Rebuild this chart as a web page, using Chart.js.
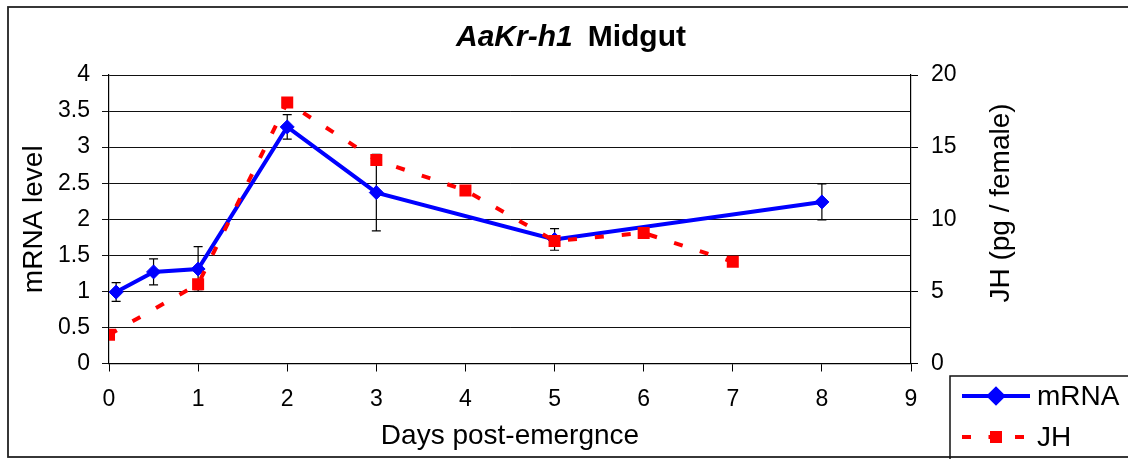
<!DOCTYPE html>
<html>
<head>
<meta charset="utf-8">
<script src="https://cdn.jsdelivr.net/npm/chart.js@4.4.1/dist/chart.umd.min.js"></script>
<style>
  html, body { margin: 0; padding: 0; background: #fff; }
  #wrap { width: 1128px; height: 459px; }
</style>
</head>
<body>
<div id="wrap"><canvas id="c" width="1128" height="459"></canvas></div>
<script>
const FONT = '"Liberation Sans", Arial, Helvetica, sans-serif';

// Midgut AaKr-h1 transcript level (relative) with standard error
const mrnaDays  = [0.08, 0.5, 1, 2, 3, 5, 8];
const mrnaLevel = [0.99, 1.27, 1.31, 3.28, 2.37, 1.72, 2.24];
const mrnaErr   = [0.13, 0.18, 0.31, 0.17, 0.53, 0.15, 0.25];

// Juvenile hormone titer (pg / female)
const jhDays  = [0, 1, 2, 3, 4, 5, 6, 7];
const jhTiter = [2.0, 5.5, 18.1, 14.1, 12.0, 8.5, 9.05, 7.05];

// Axis tick values
const dayTicks  = [0, 1, 2, 3, 4, 5, 6, 7, 8, 9];
const mrnaTicks = [0, 0.5, 1, 1.5, 2, 2.5, 3, 3.5, 4];
const jhTicks   = [0, 5, 10, 15, 20];

const BLUE = '#0000FF';
const RED = '#FF0000';

const setTicks = (vals) => (scale) => { scale.ticks = vals.map(v => ({ value: v })); };

const decor = {
  id: 'decor',
  beforeDatasetsDraw(chart) {
    // error bars on the mRNA series
    const ctx = chart.ctx, xs = chart.scales.x, ys = chart.scales.y;
    ctx.save();
    ctx.strokeStyle = '#000';
    ctx.lineWidth = 1.2;
    mrnaDays.forEach((d, i) => {
      const px = xs.getPixelForValue(d);
      const top = ys.getPixelForValue(mrnaLevel[i] + mrnaErr[i]);
      const bot = ys.getPixelForValue(mrnaLevel[i] - mrnaErr[i]);
      ctx.beginPath();
      ctx.moveTo(px, top); ctx.lineTo(px, bot);
      ctx.moveTo(px - 4.5, top); ctx.lineTo(px + 4.5, top);
      ctx.moveTo(px - 4.5, bot); ctx.lineTo(px + 4.5, bot);
      ctx.stroke();
    });
    ctx.restore();
  },
  afterDraw(chart) {
    const ctx = chart.ctx, area = chart.chartArea;
    ctx.save();

    // outer frame
    ctx.strokeStyle = '#222';
    ctx.lineWidth = 1.8;
    ctx.strokeRect(8, 7, 1135, 450);

    // title: gene name in italics, tissue in bold
    ctx.fillStyle = '#000';
    ctx.textBaseline = 'alphabetic';
    ctx.textAlign = 'left';
    const f1 = 'italic bold 30px ' + FONT, f2 = 'bold 30px ' + FONT;
    ctx.font = f1; const w1 = ctx.measureText('AaKr-h1').width;
    ctx.font = f2; const w2 = ctx.measureText('Midgut').width;
    const gap = 15;
    const tx = 571 - (w1 + gap + w2) / 2;
    ctx.font = f1; ctx.fillText('AaKr-h1', tx, 46);
    ctx.font = f2; ctx.fillText('Midgut', tx + w1 + gap, 46);

    // axis titles
    ctx.font = '28px ' + FONT;
    ctx.textAlign = 'center';
    ctx.textBaseline = 'middle';
    ctx.fillText('Days post-emergnce', (area.left + area.right) / 2, 436);

    ctx.save();
    ctx.translate(34, (area.top + area.bottom) / 2);
    ctx.rotate(-Math.PI / 2);
    ctx.fillText('mRNA level', 0, 0);
    ctx.restore();

    ctx.save();
    ctx.translate(1001, 203);
    ctx.rotate(-Math.PI / 2);
    ctx.fillText('JH (pg / female)', 0, 0);
    ctx.restore();

    // legend
    const lx = 950, ly = 376;
    ctx.strokeStyle = '#111';
    ctx.lineWidth = 1.5;
    ctx.strokeRect(lx, ly, 200, 100);

    const r1 = 396, r2 = 437;
    ctx.lineCap = 'butt';
    ctx.strokeStyle = BLUE;
    ctx.lineWidth = 4;
    ctx.beginPath(); ctx.moveTo(962, r1); ctx.lineTo(1030, r1); ctx.stroke();
    Chart.helpers.drawPoint(ctx, { pointStyle: 'rectRot', radius: 7, borderWidth: 1 }, 996, r1);
    ctx.fillStyle = BLUE; ctx.fill();

    ctx.strokeStyle = RED;
    ctx.setLineDash([9, 17.5]);
    ctx.beginPath(); ctx.moveTo(962, r2); ctx.lineTo(1030, r2); ctx.stroke();
    ctx.setLineDash([]);
    ctx.fillStyle = RED;
    ctx.fillRect(990, r2 - 6, 12, 12);

    ctx.fillStyle = '#000';
    ctx.font = '28px ' + FONT;
    ctx.textAlign = 'left';
    ctx.textBaseline = 'middle';
    ctx.fillText('mRNA', 1037, r1 + 1);
    ctx.fillText('JH', 1037, r2 + 1);

    ctx.restore();
  }
};

new Chart(document.getElementById('c'), {
  type: 'line',
  data: {
    datasets: [
      {
        label: 'mRNA',
        data: mrnaDays.map((d, i) => ({ x: d, y: mrnaLevel[i] })),
        yAxisID: 'y',
        borderColor: BLUE,
        backgroundColor: BLUE,
        borderWidth: 4,
        pointStyle: 'rectRot',
        pointRadius: 7,
        pointBorderWidth: 1,
        tension: 0,
        order: 2
      },
      {
        label: 'JH',
        data: jhDays.map((d, i) => ({ x: d, y: jhTiter[i] })),
        yAxisID: 'y1',
        borderColor: RED,
        backgroundColor: RED,
        borderWidth: 4,
        borderDash: [9, 18],
        borderCapStyle: 'butt',
        pointStyle: 'rect',
        pointRadius: 8.5,
        pointBorderWidth: 0,
        tension: 0,
        order: 1
      }
    ]
  },
  options: {
    responsive: false,
    devicePixelRatio: 1,
    animation: false,
    events: [],
    layout: { padding: { left: 0, right: 0, top: 75, bottom: 0 } },
    plugins: { legend: { display: false }, title: { display: false }, tooltip: { enabled: false } },
    scales: {
      x: {
        type: 'linear',
        min: 0, max: 9,
        afterBuildTicks: setTicks(dayTicks),
        afterFit: (s) => { s.height = 95.5; },
        border: { display: true, color: '#000', width: 1.2 },
        grid: { drawOnChartArea: false, drawTicks: true, tickLength: 8, color: '#000' },
        ticks: { color: '#000', font: { family: FONT, size: 23 }, padding: 14, maxRotation: 0, callback: (v) => String(v) }
      },
      y: {
        type: 'linear',
        position: 'left',
        min: 0, max: 4,
        afterBuildTicks: setTicks(mrnaTicks),
        afterFit: (s) => { s.width = 109; },
        border: { display: true, color: '#000', width: 1.2 },
        grid: { color: '#111', lineWidth: 1, tickLength: 7 },
        ticks: { color: '#000', font: { family: FONT, size: 23 }, padding: 12, callback: (v) => String(v) }
      },
      y1: {
        type: 'linear',
        position: 'right',
        min: 0, max: 20,
        afterBuildTicks: setTicks(jhTicks),
        afterFit: (s) => { s.width = 217; },
        border: { display: true, color: '#000', width: 1.2 },
        grid: { drawOnChartArea: false, tickLength: 7, color: '#000' },
        ticks: { color: '#000', font: { family: FONT, size: 23 }, padding: 13, callback: (v) => String(v) }
      }
    }
  },
  plugins: [decor]
});
</script>
</body>
</html>
